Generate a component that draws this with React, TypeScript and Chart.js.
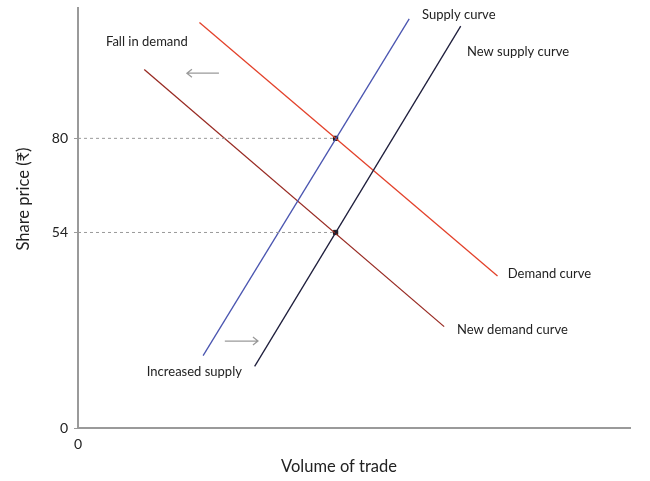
import { useEffect, useRef } from "react";
import { Chart, registerables } from "chart.js";

Chart.register(...registerables);

// curves as [volume, price] end points
const supplyCurve = [
  { x: 34, y: 20 },
  { x: 90, y: 113 },
];
const newSupplyCurve = [
  { x: 48, y: 17 },
  { x: 104, y: 111 },
];
const demandCurve = [
  { x: 33, y: 112 },
  { x: 114, y: 42 },
];
const newDemandCurve = [
  { x: 18, y: 99 },
  { x: 99.5, y: 28 },
];
const equilibria = [
  { x: 70, y: 80 },
  { x: 70, y: 54 },
];
const priceTicks = [0, 54, 80];
const volumeTicks = [0];

const curveLabels = [
  { text: "Supply curve", x: 93.5, y: 114 },
  { text: "New supply curve", x: 105.7, y: 104 },
  { text: "Fall in demand", x: 7.6, y: 106.6 },
  { text: "Demand curve", x: 116.8, y: 42.5 },
  { text: "New demand curve", x: 103, y: 27.1 },
  { text: "Increased supply", x: 18.7, y: 15.5 },
];
const shiftArrows = [
  { from: { x: 38.3, y: 98 }, to: { x: 29.6, y: 98 } },
  { from: { x: 39.9, y: 24 }, to: { x: 48.9, y: 24 } },
];

const FONT = "Lato, 'Noto Sans', 'DejaVu Sans', sans-serif";
const AXIS_GREY = "#9a9a9a";
const TEXT = "#222";

const annotations = {
  id: "annotations",
  afterDatasetsDraw(chart: any) {
    const { ctx, scales } = chart;
    const xs = scales.x;
    const ys = scales.y;
    ctx.save();
    ctx.fillStyle = TEXT;
    ctx.font = `13px ${FONT}`;
    ctx.textAlign = "left";
    ctx.textBaseline = "middle";
    curveLabels.forEach((l) => {
      ctx.fillText(l.text, xs.getPixelForValue(l.x), ys.getPixelForValue(l.y));
    });

    ctx.strokeStyle = AXIS_GREY;
    ctx.lineWidth = 1.3;
    shiftArrows.forEach((a) => {
      const x1 = xs.getPixelForValue(a.from.x);
      const y1 = ys.getPixelForValue(a.from.y);
      const x2 = xs.getPixelForValue(a.to.x);
      const y2 = ys.getPixelForValue(a.to.y);
      const dir = Math.sign(x2 - x1);
      ctx.beginPath();
      ctx.moveTo(x1, y1);
      ctx.lineTo(x2, y2);
      ctx.moveTo(x2 - dir * 5, y2 - 4);
      ctx.lineTo(x2, y2);
      ctx.lineTo(x2 - dir * 5, y2 + 4);
      ctx.stroke();
    });

    ctx.font = `16.5px ${FONT}`;
    ctx.textAlign = "center";
    ctx.fillText("Volume of trade", 339, 467);
    ctx.translate(24, 199);
    ctx.rotate(-Math.PI / 2);
    ctx.fillText("Share price (₹)", 0, 0);
    ctx.restore();
  },
};

const App = () => {
  const canvasRef = useRef<HTMLCanvasElement>(null);

  useEffect(() => {
    if (!canvasRef.current) return;
    const line = (data: { x: number; y: number }[], color: string) => ({
      data,
      borderColor: color,
      borderWidth: 1.3,
      showLine: true,
      pointRadius: 0,
    });
    const dashed = equilibria.map((p) => ({
      data: [
        { x: 0, y: p.y },
        { x: p.x, y: p.y },
      ],
      borderColor: AXIS_GREY,
      borderWidth: 1,
      borderDash: [3, 3],
      showLine: true,
      pointRadius: 0,
    }));
    const chart = new Chart(canvasRef.current, {
      type: "scatter",
      data: {
        datasets: [
          ...dashed,
          line(supplyCurve, "#4a55b0"),
          line(newSupplyCurve, "#1e1e3c"),
          line(demandCurve, "#e3412a"),
          line(newDemandCurve, "#982a22"),
          {
            data: equilibria,
            pointStyle: "rect",
            pointRadius: 3,
            backgroundColor: "#1a1a1a",
            borderColor: "#1a1a1a",
            showLine: false,
          },
        ],
      },
      options: {
        animation: false,
        responsive: true,
        maintainAspectRatio: false,
        layout: { padding: { top: 8, right: 20, left: 0, bottom: 0 } },
        plugins: {
          legend: { display: false },
          tooltip: { enabled: false },
        },
        scales: {
          x: {
            type: "linear",
            min: 0,
            max: 150,
            afterBuildTicks: (s: any) => {
              s.ticks = volumeTicks.map((v) => ({ value: v }));
            },
            afterFit: (s: any) => {
              s.height = 53;
              s.paddingLeft = 0;
              s.paddingRight = 0;
            },
            grid: { display: false },
            border: { color: AXIS_GREY, width: 2 },
            ticks: {
              color: TEXT,
              font: { family: FONT, size: 14 },
              padding: 0,
            },
          },
          y: {
            type: "linear",
            min: 0,
            max: 116,
            afterBuildTicks: (s: any) => {
              s.ticks = priceTicks.map((v) => ({ value: v }));
            },
            afterFit: (s: any) => {
              s.width = 78;
              s.paddingTop = 0;
              s.paddingBottom = 0;
            },
            grid: {
              drawOnChartArea: false,
              drawTicks: true,
              tickLength: 4,
              color: AXIS_GREY,
            },
            border: { color: AXIS_GREY, width: 2 },
            ticks: {
              color: TEXT,
              font: { family: FONT, size: 14 },
              padding: 6,
            },
          },
        },
      },
      plugins: [annotations],
    });

    return () => {
      chart.destroy();
    };
  }, []);

  return (
    <div
      style={{
        position: "fixed",
        left: 0,
        top: 0,
        width: 650,
        height: 481,
        background: "#fff",
      }}
    >
      <canvas ref={canvasRef}></canvas>
    </div>
  );
};

export default App;
